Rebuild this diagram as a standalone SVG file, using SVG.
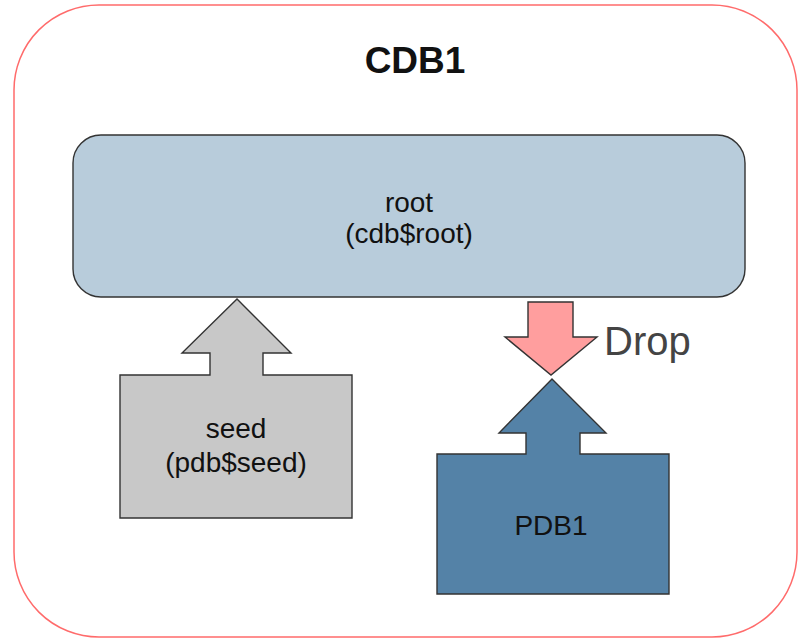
<svg xmlns="http://www.w3.org/2000/svg" width="798" height="639" viewBox="0 0 798 639">
<style>
  text { font-family: "Liberation Sans", Arial, sans-serif; fill: #111; text-anchor: middle; }
  .lbl { font-size: 28px; }
  .title { font-size: 37px; font-weight: bold; }
  .drop { font-size: 40px; fill: #444; text-anchor: start; }
  .shape { stroke: #333; stroke-width: 1.4; stroke-linejoin: miter; }
</style>
<g id="cdb1">
  <rect x="14" y="5" width="783" height="632" rx="85" ry="85" fill="#fff" stroke="#ff6b6b" stroke-width="1.5"/>
  <text class="title" x="415" y="73">CDB1</text>
</g>
<g id="root">
  <rect class="shape" x="73" y="135" width="672" height="162" rx="28" ry="28" fill="#b8ccdb"/>
  <text class="lbl" x="409" y="212">root</text>
  <text class="lbl" x="409" y="243">(cdb$root)</text>
</g>
<g id="seed">
  <path class="shape" fill="#c8c8c8" d="M120,375 H210 V353 H182 L237,299 L291,353 H263 V375 H352 V518 H120 Z"/>
  <text class="lbl" x="236" y="438">seed</text>
  <text class="lbl" x="236" y="472">(pdb$seed)</text>
</g>
<g id="pdb1">
  <path class="shape" fill="#5482a7" d="M437,454 H526 V433 H499 L552,379 L606,433 H580 V454 H669 V594 H437 Z"/>
  <text class="lbl" x="551" y="535">PDB1</text>
</g>
<g id="connectors">
  <path class="shape" fill="#ff9e9e" d="M528,302 H573 V337 H597 L551,375 L505,337 H528 Z"/>
  <text class="drop" x="604" y="355">Drop</text>
</g>
</svg>
